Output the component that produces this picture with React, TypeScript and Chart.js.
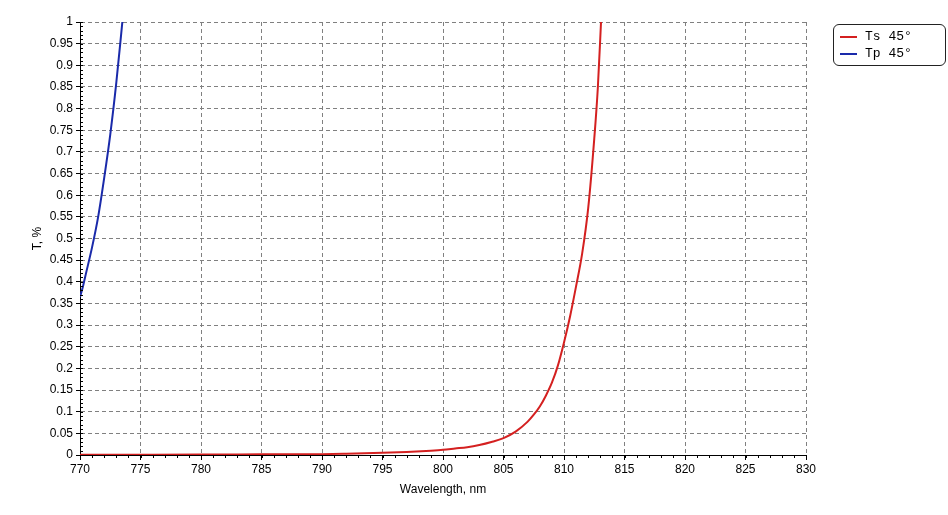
import React, { useEffect, useRef } from "react";
import { Chart, registerables } from "chart.js";

Chart.register(...registerables);

const tsWavelengths = [770, 775, 780, 785, 790, 792, 795, 797, 799, 800, 801, 802, 803, 804, 805, 806, 807, 807.5, 808, 808.5, 809, 809.5, 810, 810.5, 811, 811.5, 812, 812.5, 812.8, 813.06];
const tsValues = [0.0005, 0.0007, 0.001, 0.0015, 0.002, 0.003, 0.005, 0.007, 0.01, 0.012, 0.015, 0.018, 0.023, 0.03, 0.039, 0.054, 0.077, 0.093, 0.112, 0.137, 0.167, 0.207, 0.26, 0.32, 0.39, 0.465, 0.57, 0.73, 0.85, 1.0];

const tpWavelengths = [770, 770.25, 770.5, 771, 771.5, 772, 772.5, 773, 773.5];
const tpValues = [0.365, 0.39, 0.42, 0.48, 0.55, 0.64, 0.74, 0.86, 1.0];

const seriesLabels = ["Ts 45°", "Tp 45°"];
const seriesColors = ["#d42020", "#1a2aaa"];

const minorTicks = {
  id: "minorTicks",
  afterDatasetsDraw(chart: any) {
    const { ctx, chartArea, scales } = chart;
    const x = scales.x;
    const y = scales.y;
    ctx.save();
    ctx.strokeStyle = "#000";
    ctx.lineWidth = 1;
    ctx.beginPath();
    for (let v = 770; v <= 830; v += 1) {
      const px = Math.round(x.getPixelForValue(v)) + 0.5;
      ctx.moveTo(px, chartArea.bottom);
      ctx.lineTo(px, chartArea.bottom + 3);
    }
    for (let i = 0; i <= 100; i++) {
      const py = Math.round(y.getPixelForValue(i / 100)) + 0.5;
      ctx.moveTo(chartArea.left, py);
      ctx.lineTo(chartArea.left + 3, py);
    }
    ctx.stroke();
    ctx.restore();
  },
};

export default function App() {
  const ref = useRef<HTMLCanvasElement>(null);
  useEffect(() => {
    if (!ref.current) return;
    const font = { family: "'Liberation Sans', Arial, sans-serif", size: 12 };
    const chart = new Chart(ref.current, {
      type: "line",
      data: {
        datasets: [
          {
            label: seriesLabels[0],
            data: tsWavelengths.map((w, i) => ({ x: w, y: tsValues[i] })),
            borderColor: seriesColors[0],
            borderWidth: 2,
            pointRadius: 0,
            cubicInterpolationMode: "monotone",
          },
          {
            label: seriesLabels[1],
            data: tpWavelengths.map((w, i) => ({ x: w, y: tpValues[i] })),
            borderColor: seriesColors[1],
            borderWidth: 2,
            pointRadius: 0,
            cubicInterpolationMode: "monotone",
          },
        ],
      },
      options: {
        responsive: false,
        animation: false,
        layout: { padding: { left: 30, right: 142, top: 22, bottom: 18 } },
        plugins: { legend: { display: false }, tooltip: { enabled: false } },
        scales: {
          x: {
            type: "linear",
            min: 770,
            max: 830,
            afterFit: (s: any) => { s.height = 42; },
            ticks: { stepSize: 5, color: "#000", font, padding: 2, maxRotation: 0 },
            grid: { color: "#808080", tickColor: "#000", tickLength: 5, drawTicks: true },
            border: { color: "#000", width: 1, dash: [4, 3] } as any,
            title: { display: true, text: "Wavelength, nm", color: "#000", font, padding: 0 },
          },
          y: {
            min: 0,
            max: 1,
            afterFit: (s: any) => { s.width = 50; },
            ticks: {
              stepSize: 0.05,
              color: "#000",
              font,
              padding: 3,
              callback: (v: any) => String(Number(Number(v).toFixed(2))),
            },
            grid: { color: "#808080", tickColor: "#000", tickLength: 4 },
            border: { color: "#000", width: 1, dash: [4, 3] } as any,
            title: { display: true, text: "T, %", color: "#000", font, padding: 0 },
          },
        },
      },
      plugins: [minorTicks],
    } as any);
    return () => chart.destroy();
  }, []);

  return (
    <div style={{ position: "fixed", left: 0, top: 0, width: 948, height: 515, background: "#fff" }}>
      <canvas ref={ref} width={948} height={515} style={{ display: "block" }} />
      <div
        style={{
          position: "absolute",
          left: 833,
          top: 24,
          width: 113,
          height: 42,
          border: "1px solid #222",
          borderRadius: 6,
          fontFamily: "'Liberation Mono', 'Courier New', monospace",
          fontSize: 13,
          color: "#000",
          boxSizing: "border-box",
        }}
      >
        {seriesLabels.map((l, i) => (
          <div key={l} style={{ position: "absolute", left: 6, top: 4 + i * 17, height: 15, display: "flex", alignItems: "center" }}>
            <span style={{ display: "inline-block", width: 17, height: 2, background: seriesColors[i], marginRight: 8 }} />
            <span style={{ whiteSpace: "pre" }}>{l}</span>
          </div>
        ))}
      </div>
    </div>
  );
}
